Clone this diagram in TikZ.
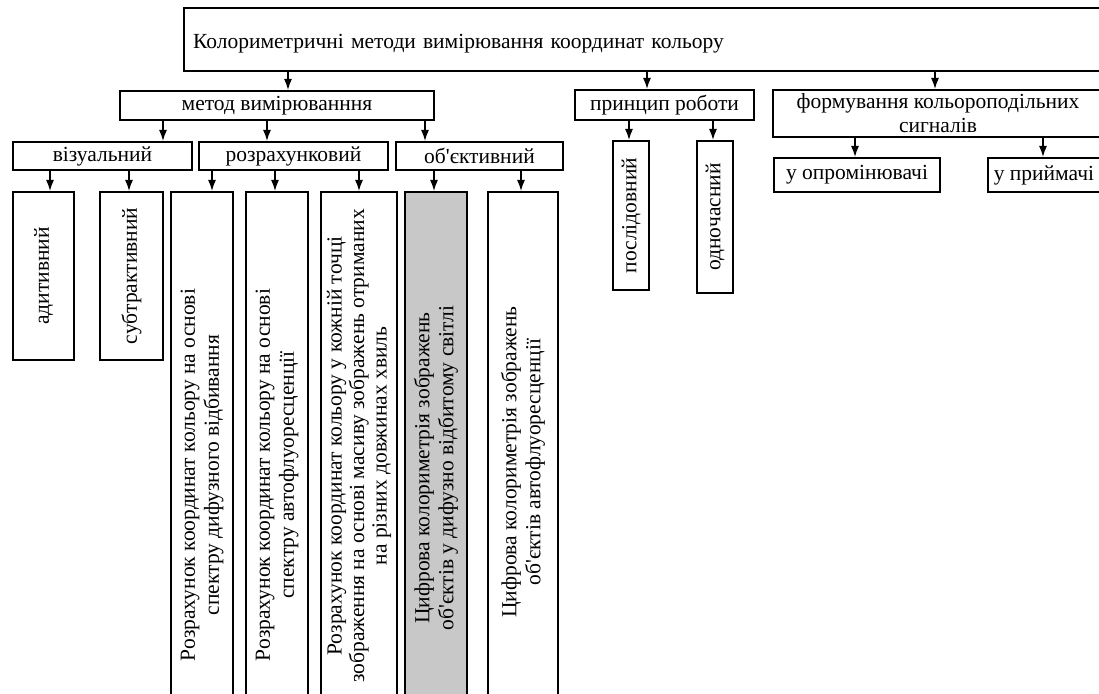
\documentclass[tikz,border=0pt]{standalone}
\usepackage{fontspec}
\setmainfont{Liberation Serif}
\usepackage{xcolor}
\definecolor{Col1}{RGB}{200,200,200}
\usetikzlibrary{arrows.meta}
\tikzstyle{Box}=[draw,line width=2.2pt,inner sep=0pt,align=center]
\tikzstyle{VBox}=[Box,rotate=90]
\tikzstyle{Edge}=[line width=1.2pt,-{Latex[length=11pt,width=8pt]}]

\begin{document}
\begin{tikzpicture}[x=1pt,y=-1pt,font=\fontsize{21.5}{24}\selectfont]
            \useasboundingbox (0,0) rectangle (1099,693);
            \clip (0,0) rectangle (1099,693);
            \node[Box,anchor=north west,minimum width=930pt,minimum height=63pt,
                text width=912pt,align=left,text height=24pt,text depth=6pt]
                (top)at(183,7){Колориметричні методи вимірювання координат кольору};
            \node[Box,minimum width=314pt,minimum height=29pt](met)at(277,105.5)
                {метод вимірюванння};
            \node[Box,minimum width=179pt,minimum height=30pt](pri)at(664.5,105)
                {принцип роботи};
            \node[Box,minimum width=330pt,minimum height=47pt](form)at(938,113.5)
                {формування кольороподільних\\сигналів};
            \node[Box,minimum width=179pt,minimum height=28pt](viz)at(102.5,156)
                {візуальний};
            \node[Box,minimum width=189pt,minimum height=28pt](roz)at(293.5,156)
                {розрахунковий};
            \node[Box,minimum width=167pt,minimum height=28pt](obj)at(479.5,156)
                {об\textquotesingle{}єктивний};
            \node[Box,minimum width=166pt,minimum height=34pt](opr)at(857,175)
                {у опромінювачі};
            \node[Box,minimum width=112pt,minimum height=34pt](pry)at(1044,175)
                {у приймачі};
            \node[VBox,minimum width=149pt,minimum height=36pt](pos)at(631,215.5)
                {послідовний};
            \node[VBox,minimum width=152pt,minimum height=36pt](odn)at(715,217)
                {одночасний};
            \node[VBox,minimum width=168pt,minimum height=61pt](ad)at(43.5,276)
                {адитивний};
            \node[VBox,minimum width=168pt,minimum height=63pt](sub)at(131.5,276)
                {субтрактивний};
            \node[VBox,minimum width=566pt,minimum height=62pt](r1)at(202,475)
                {Розрахунок координат кольору на основі\\спектру дифузного відбивання};
            \node[VBox,minimum width=566pt,minimum height=62pt](r2)at(277,475)
                {Розрахунок координат кольору на основі\\спектру автофлуоресценції};
            \node[VBox,minimum width=508pt,minimum height=76pt,font=\fontsize{21.5}{22.5}\selectfont]
                (r3)at(359,446)
                {Розрахунок координат кольору у кожній точці\\зображення на основі масиву зображень отриманих\\на різних довжинах хвиль};
            \node[VBox,fill=Col1,minimum width=552pt,minimum height=62pt](c1)at(436,468)
                {Цифрова колориметрія зображень\\об\textquotesingle{}єктів у дифузно відбитому світлі};
            \node[VBox,minimum width=540pt,minimum height=70pt](c2)at(523,462)
                {Цифрова колориметрія зображень\\об\textquotesingle{}єктів автофлуоресценції};
            %
            \draw[Edge](top.south -| 288,0)--(met.north -| 288,0);
            \draw[Edge](top.south -| 647,0)--(pri.north -| 647,0);
            \draw[Edge](top.south -| 935,0)--(form.north -| 935,0);
            \draw[Edge](met.south -| 163,0)--(viz.north -| 163,0);
            \draw[Edge](met.south -| 267,0)--(roz.north -| 267,0);
            \draw[Edge](met.south -| 425,0)--(obj.north -| 425,0);
            \draw[Edge](pri.south -| 629,0)--(pos.east -| 629,0);
            \draw[Edge](pri.south -| 713,0)--(odn.east -| 713,0);
            \draw[Edge](form.south -| 855,0)--(opr.north -| 855,0);
            \draw[Edge](form.south -| 1043,0)--(pry.north -| 1043,0);
            \draw[Edge](viz.south -| 50,0)--(ad.east -| 50,0);
            \draw[Edge](viz.south -| 129,0)--(sub.east -| 129,0);
            \draw[Edge](roz.south -| 212,0)--(r1.east -| 212,0);
            \draw[Edge](roz.south -| 275,0)--(r2.east -| 275,0);
            \draw[Edge](roz.south -| 359,0)--(r3.east -| 359,0);
            \draw[Edge](obj.south -| 434,0)--(c1.east -| 434,0);
            \draw[Edge](obj.south -| 521,0)--(c2.east -| 521,0);
        \end{tikzpicture}
\end{document}
